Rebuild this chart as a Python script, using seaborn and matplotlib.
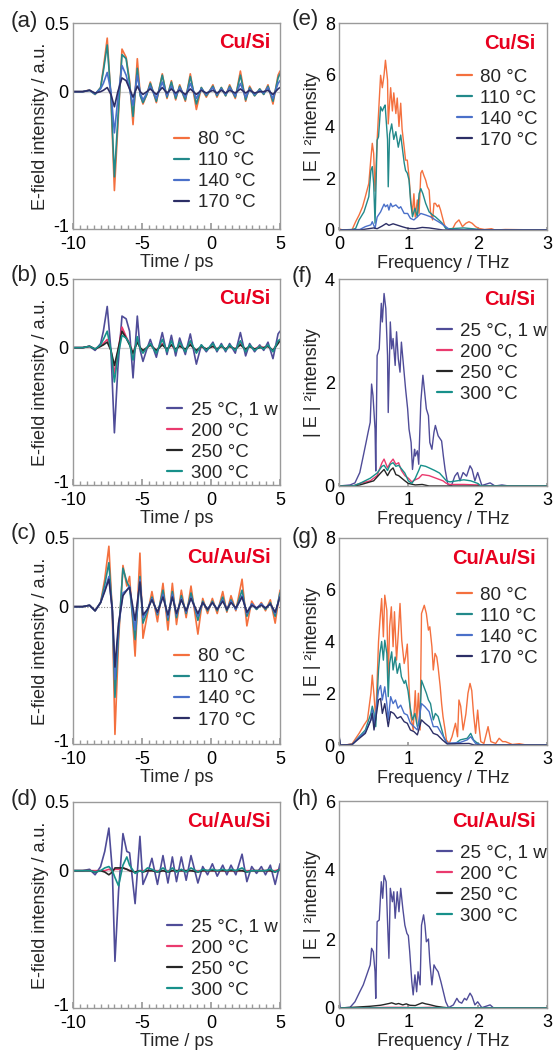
import numpy as np
import pandas as pd
import matplotlib
matplotlib.use("Agg")
import matplotlib.pyplot as plt
import matplotlib.transforms as mtransforms
from matplotlib.ticker import MultipleLocator
import seaborn as sns

sns.set_theme(style="ticks")
plt.rcParams["font.family"] = ["Liberation Sans", "DejaVu Sans"]

# ---------------- time-domain waveforms ----------------
t_cusi = [-10.0, -9.3, -8.8, -8.4, -8.0, -7.8, -7.52, -7.25, -7.0, -6.75, -6.45, -6.15, -5.9, -5.65,
          -5.34, -5.13, -4.93, -4.65, -4.40, -3.96, -3.53, -3.19, -2.87, -2.56, -2.27, -1.86, -1.50,
          -1.06, -0.70, -0.34, 0.14, 0.43, 0.75, 1.06, 1.35, 1.76, 2.13, 2.51, 2.80, 3.16, 3.53, 3.82,
          4.13, 4.49, 4.86, 5.0]

a_80 = [0, 0, 0.012, -0.02, 0.03, 0.17, 0.39, -0.05, -0.72, -0.25, 0.31, 0.25, 0.08, -0.24, 0.24, -0.02,
        -0.09, -0.02, 0.07, -0.08, 0.13, -0.05, 0.08, -0.06, 0.05, -0.07, 0.13, -0.13, 0.03, -0.04, 0.05,
        -0.04, 0.03, -0.03, 0.05, -0.05, 0.15, -0.07, 0.04, -0.03, 0.02, -0.02, 0.05, -0.09, 0.12, 0.15]
a_110 = [0, 0, 0.01, -0.02, 0.03, 0.15, 0.34, -0.03, -0.62, -0.2, 0.27, 0.24, 0.06, -0.18, 0.17, -0.03,
         -0.08, -0.02, 0.06, -0.07, 0.12, -0.04, 0.07, -0.05, 0.04, -0.06, 0.11, -0.09, 0.03, -0.03, 0.04,
         -0.03, 0.03, -0.03, 0.04, -0.04, 0.12, -0.06, 0.03, -0.03, 0.02, -0.02, 0.04, -0.07, 0.10, 0.13]
a_140 = [0, 0, 0.01, -0.015, 0.02, 0.06, 0.14, 0.0, -0.30, -0.05, 0.19, 0.12, 0.02, -0.10, 0.12, -0.01,
         -0.06, -0.01, 0.04, -0.05, 0.07, -0.03, 0.04, -0.03, 0.03, -0.04, 0.06, -0.05, 0.02, -0.02, 0.03,
         -0.02, 0.02, -0.02, 0.03, -0.03, 0.06, -0.04, 0.02, -0.02, 0.01, -0.01, 0.03, -0.05, 0.06, 0.08]
a_170 = [0, 0, 0.01, -0.01, 0.0, 0.01, 0.03, -0.02, -0.11, 0.0, 0.10, 0.08, 0.02, -0.04, 0.04, 0.0,
         -0.02, 0.0, 0.02, -0.02, 0.03, -0.01, 0.02, -0.01, 0.01, -0.02, 0.02, -0.02, 0.01, -0.01, 0.01,
         -0.01, 0.01, -0.01, 0.01, -0.01, 0.02, -0.01, 0.01, -0.01, 0.0, 0.0, 0.01, -0.02, 0.02, 0.03]

b_25 = [0, 0, 0.01, -0.02, 0.03, 0.12, 0.30, -0.02, -0.62, -0.15, 0.23, 0.21, 0.12, -0.22, 0.23, -0.02,
        -0.10, -0.01, 0.06, -0.07, 0.11, -0.05, 0.09, -0.06, 0.07, -0.05, 0.10, -0.12, 0.02, -0.03, 0.04,
        -0.03, 0.03, -0.03, 0.03, -0.04, 0.11, -0.06, 0.03, -0.03, 0.02, -0.02, 0.04, -0.08, 0.10, 0.12]
b_200 = [0, 0, 0.01, -0.01, 0.01, 0.03, 0.06, -0.02, -0.19, -0.03, 0.15, 0.08, 0.03, -0.05, 0.06, -0.01,
         -0.03, 0, 0.02, -0.02, 0.03, -0.02, 0.02, -0.02, 0.02, -0.02, 0.03, -0.03, 0.01, -0.01, 0.01,
         -0.01, 0.01, -0.01, 0.01, -0.01, 0.03, -0.02, 0.01, -0.01, 0.01, 0, 0.01, -0.02, 0.04, 0.06]
b_250 = [0, 0, 0.01, -0.01, 0.01, 0.02, 0.04, -0.02, -0.13, -0.02, 0.12, 0.07, 0.02, -0.04, 0.04, 0.0,
         -0.02, 0, 0.02, -0.02, 0.02, -0.01, 0.02, -0.01, 0.01, -0.01, 0.02, -0.02, 0.01, -0.01, 0.01,
         -0.01, 0.01, -0.01, 0.01, -0.01, 0.02, -0.01, 0.01, -0.01, 0, 0, 0.01, -0.02, 0.03, 0.05]
b_300 = [0, 0, 0.01, -0.01, 0.02, 0.06, 0.12, -0.02, -0.25, -0.06, 0.09, 0.07, 0.03, -0.09, 0.08, -0.01,
         -0.04, 0, 0.03, -0.04, 0.06, -0.03, 0.05, -0.03, 0.04, -0.03, 0.05, -0.04, 0.02, -0.02, 0.03,
         -0.02, 0.02, -0.02, 0.02, -0.02, 0.05, -0.03, 0.02, -0.02, 0.01, -0.01, 0.02, -0.03, 0.05, 0.06]

t_cuausi = [-10.0, -9.3, -8.8, -8.4, -8.0, -7.7, -7.4, -7.15, -6.96, -6.7, -6.38, -6.1, -5.9, -5.5, -5.15,
            -4.93, -4.6, -4.28, -3.88, -3.48, -3.12, -2.80, -2.50, -2.15, -1.80, -1.45, -0.95, -0.60,
            -0.25, 0.10, 0.45, 0.85, 1.15, 1.45, 1.80, 2.25, 2.60, 2.95, 3.30, 3.65, 3.95, 4.30, 4.65, 5.0]

c_80 = [0, 0, 0.01, -0.03, 0.03, 0.20, 0.44, -0.05, -0.93, -0.25, 0.30, 0.15, 0.22, -0.36, 0.39, -0.23,
        -0.05, 0.11, -0.11, 0.17, -0.17, 0.17, -0.13, 0.12, -0.08, 0.15, -0.20, 0.06, -0.05, 0.06, -0.05,
        0.11, -0.04, 0.08, -0.03, 0.20, -0.14, 0.04, -0.02, 0.03, -0.03, 0.05, -0.12, 0.12]
c_110 = [0, 0, 0.01, -0.03, 0.03, 0.16, 0.32, -0.03, -0.66, -0.20, 0.28, 0.18, 0.14, -0.24, 0.22, -0.12,
         -0.03, 0.07, -0.06, 0.12, -0.10, 0.11, -0.08, 0.08, -0.05, 0.10, -0.10, 0.04, -0.03, 0.04, -0.03,
         0.07, -0.03, 0.05, -0.02, 0.12, -0.07, 0.02, -0.02, 0.02, -0.02, 0.03, -0.07, 0.10]
c_140 = [0, 0, 0.01, -0.03, 0.03, 0.12, 0.22, -0.03, -0.53, -0.15, 0.10, 0.12, 0.15, -0.17, 0.20, -0.08,
         -0.02, 0.06, -0.05, 0.09, -0.08, 0.09, -0.06, 0.06, -0.04, 0.07, -0.07, 0.03, -0.02, 0.03, -0.02,
         0.05, -0.02, 0.04, -0.02, 0.08, -0.05, 0.02, -0.01, 0.02, -0.01, 0.02, -0.05, 0.08]
c_170 = [0, 0, 0.01, -0.03, 0.03, 0.11, 0.20, -0.02, -0.44, -0.12, 0.08, 0.12, 0.14, -0.10, 0.18, -0.06,
         -0.02, 0.05, -0.04, 0.07, -0.06, 0.07, -0.05, 0.05, -0.03, 0.06, -0.05, 0.03, -0.02, 0.03, -0.02,
         0.04, -0.02, 0.03, -0.01, 0.07, -0.04, 0.01, -0.01, 0.01, -0.01, 0.02, -0.04, 0.07]

d_25 = [0, 0, 0.01, -0.03, 0.03, 0.14, 0.31, 0.0, -0.66, -0.15, 0.27, 0.14, 0.13, -0.24, 0.25, -0.10,
        -0.02, 0.09, -0.10, 0.11, -0.09, 0.10, -0.08, 0.10, -0.07, 0.11, -0.09, 0.03, -0.03, 0.05, -0.04,
        0.04, -0.03, 0.04, -0.03, 0.12, -0.08, 0.03, -0.02, 0.03, -0.03, 0.04, -0.10, 0.05]
d_200 = [0, 0, 0, 0, 0, 0, 0.01, 0, 0.01, 0.01, 0.02, 0.01, 0.0, -0.01, 0.0, 0, 0, 0, 0, 0, 0, 0, 0, 0,
         0, 0, 0, 0, 0, 0, 0, 0, 0, 0, 0, 0, 0, 0, 0, 0, 0, 0, 0, 0.01]
d_250 = [0, 0, 0, -0.01, 0, -0.01, -0.03, -0.01, 0.02, 0.02, 0.02, 0.01, 0.0, -0.01, 0.0, -0.01, 0, 0,
         -0.01, 0, -0.01, 0, 0, 0, 0, 0, -0.01, 0, 0, 0, 0, 0, 0, 0, 0, 0, -0.01, 0, 0, 0, 0, 0, -0.01, 0.01]
d_300 = [0, 0, 0, -0.01, 0, 0.02, 0.03, 0.0, -0.05, -0.11, 0.04, 0.10, 0.04, -0.02, 0.0, -0.01, 0.02,
         0.01, -0.01, 0.02, -0.01, 0.02, -0.01, 0.01, -0.01, 0.02, -0.01, 0.01, 0, 0.01, 0, 0.01, 0, 0.01,
         0, 0.02, -0.01, 0, 0, 0, 0, 0.01, -0.01, 0.01]

# ---------------- spectra ----------------
e80_f = [0, 0.05, 0.15, 0.19, 0.24, 0.29, 0.34, 0.38, 0.43, 0.46, 0.48, 0.50, 0.52, 0.55, 0.58, 0.60,
         0.625, 0.65, 0.67, 0.70, 0.71, 0.745, 0.77, 0.79, 0.82, 0.84, 0.865, 0.89, 0.91, 0.94, 0.96,
         0.985, 1.01, 1.035, 1.06, 1.08, 1.10, 1.13, 1.155, 1.18, 1.20, 1.225, 1.25, 1.275, 1.30, 1.32,
         1.35, 1.37, 1.39, 1.42, 1.44, 1.465, 1.49, 1.515, 1.54, 1.63, 1.68, 1.73, 1.78, 1.83, 1.875,
         1.92, 1.97, 2.02, 2.1, 2.2, 2.25, 2.4, 3.0]
e80_v = [0.05, 0, 0, 0.02, 0.32, 0.58, 0.9, 1.29, 1.8, 2.77, 3.35, 2.96, 1.5, 3.47, 5.0, 5.98, 5.5, 6.0,
         6.56, 5.8, 4.1, 5.5, 4.6, 5.3, 4.5, 5.1, 4.0, 4.9, 3.9, 3.2, 2.7, 2.7, 2.06, 1.16, 0.64, 1.4, 0.5,
         1.16, 0.64, 2.2, 2.3, 2.1, 1.93, 1.67, 1.54, 0.7, 0.39, 1.03, 1.03, 0.9, 0.97, 0.77, 0.51, 0.26,
         0.06, 0.0, 0.26, 0.39, 0.13, 0.26, 0.32, 0.26, 0.13, 0.06, 0.02, 0.05, 0.0, 0.02, 0.0]
e110_f = [0, 0.19, 0.24, 0.29, 0.36, 0.43, 0.46, 0.48, 0.50, 0.52, 0.55, 0.57, 0.60, 0.625, 0.65, 0.665,
          0.70, 0.71, 0.73, 0.76, 0.79, 0.82, 0.855, 0.89, 0.94, 0.96, 0.985, 1.01, 1.035, 1.06, 1.095,
          1.13, 1.155, 1.18, 1.21, 1.25, 1.30, 1.35, 1.39, 1.44, 1.49, 1.54, 1.6, 1.8, 2.0, 2.05, 3.0]
e110_v = [0, 0.02, 0.06, 0.39, 0.7, 1.29, 2.3, 2.45, 1.8, 0.26, 3.47, 3.6, 4.76, 4.6, 4.76, 4.83, 3.5,
          1.67, 3.7, 4.1, 3.5, 3.8, 3.2, 3.67, 2.6, 2.3, 2.2, 1.93, 1.03, 0.51, 0.84, 0.51, 1.4, 1.6, 1.4,
          1.03, 0.7, 0.58, 0.51, 0.39, 0.26, 0.06, 0.05, 0.08, 0.03, 0.0, 0.0]
e140_f = [0, 0.3, 0.38, 0.46, 0.48, 0.52, 0.55, 0.60, 0.65, 0.67, 0.70, 0.72, 0.745, 0.77, 0.82, 0.865,
          0.89, 0.94, 0.99, 1.03, 1.08, 1.13, 1.18, 1.25, 1.32, 1.39, 1.47, 1.54, 1.6, 3.0]
e140_v = [0, 0.02, 0.13, 0.2, 0.32, 0.06, 0.5, 0.7, 1.0, 0.9, 0.97, 0.77, 1.03, 0.9, 0.97, 0.84, 0.9,
          0.64, 0.64, 0.45, 0.39, 0.51, 0.64, 0.58, 0.51, 0.39, 0.26, 0.13, 0.0, 0.0]
e170_f = [0, 0.3, 0.4, 0.5, 0.55, 0.62, 0.68, 0.72, 0.78, 0.85, 0.92, 1.0, 1.1, 1.2, 1.3, 1.4, 1.5, 3.0]
e170_v = [0, 0.0, 0.04, 0.08, 0.05, 0.15, 0.25, 0.18, 0.24, 0.18, 0.12, 0.06, 0.05, 0.1, 0.08, 0.04, 0.0, 0.0]

f25_f = [0, 0.16, 0.23, 0.30, 0.35, 0.39, 0.42, 0.45, 0.47, 0.49, 0.52, 0.53, 0.55, 0.58, 0.61, 0.625,
         0.65, 0.675, 0.70, 0.71, 0.74, 0.76, 0.78, 0.81, 0.83, 0.855, 0.88, 0.90, 0.93, 0.96, 0.99, 1.01,
         1.04, 1.06, 1.09, 1.10, 1.13, 1.15, 1.18, 1.21, 1.23, 1.26, 1.29, 1.31, 1.34, 1.37, 1.39, 1.43,
         1.48, 1.505, 1.53, 1.57, 1.62, 1.67, 1.71, 1.745, 1.79, 1.84, 1.89, 1.92, 1.96, 2.0, 2.06, 2.18,
         2.25, 2.35, 2.45, 3.0]
f25_v = [0.0, 0.02, 0.06, 0.26, 0.58, 0.84, 1.04, 1.23, 1.97, 1.75, 1.1, 0.29, 2.52, 2.65, 3.53, 3.17,
         3.72, 3.43, 2.52, 1.42, 3.17, 2.65, 2.85, 2.33, 2.98, 2.46, 2.2, 2.78, 2.33, 1.88, 1.49, 1.1,
         0.84, 0.32, 0.71, 0.58, 0.68, 0.42, 1.62, 2.14, 1.88, 1.49, 1.36, 0.84, 0.71, 1.04, 1.17, 0.97,
         0.87, 0.58, 0.32, 0.03, 0.0, 0.19, 0.26, 0.1, 0.26, 0.19, 0.39, 0.32, 0.1, 0.26, 0.01, 0.06, 0.0,
         0.02, 0.0, 0.0]
f200_f = [0, 0.2, 0.3, 0.45, 0.55, 0.62, 0.65, 0.70, 0.74, 0.78, 0.82, 0.86, 0.9, 0.95, 1.0, 1.05, 1.1,
          1.15, 1.2, 1.3, 1.4, 1.5, 1.55, 1.6, 1.8, 2.0, 2.05, 3.0]
f200_v = [0, 0.0, 0.05, 0.1, 0.2, 0.45, 0.52, 0.35, 0.45, 0.52, 0.42, 0.45, 0.3, 0.2, 0.15, 0.08, 0.12,
          0.15, 0.22, 0.2, 0.15, 0.1, 0.05, 0.03, 0.03, 0.02, 0.0, 0.0]
f250_f = [0, 0.2, 0.3, 0.5, 0.6, 0.65, 0.7, 0.74, 0.78, 0.82, 0.86, 0.95, 1.0, 1.1, 1.2, 1.3, 3.0]
f250_v = [0, 0.0, 0.02, 0.1, 0.25, 0.32, 0.2, 0.3, 0.35, 0.22, 0.2, 0.1, 0.05, 0.02, 0.03, 0.0, 0.0]
f300_f = [0, 0.2, 0.3, 0.45, 0.55, 0.62, 0.65, 0.70, 0.74, 0.78, 0.82, 0.86, 0.95, 1.0, 1.05, 1.1, 1.15,
          1.18, 1.25, 1.3, 1.38, 1.45, 1.55, 1.6, 1.7, 1.8, 1.9, 2.0, 2.05, 3.0]
f300_v = [0, 0.0, 0.05, 0.15, 0.25, 0.38, 0.4, 0.3, 0.42, 0.45, 0.38, 0.4, 0.25, 0.1, 0.05, 0.15, 0.3,
          0.4, 0.38, 0.35, 0.3, 0.25, 0.1, 0.08, 0.1, 0.12, 0.1, 0.05, 0.0, 0.0]

g80_f = [0, 0.02, 0.1, 0.19, 0.29, 0.36, 0.41, 0.46, 0.48, 0.505, 0.53, 0.57, 0.59, 0.615, 0.64, 0.66,
         0.69, 0.71, 0.73, 0.755, 0.78, 0.80, 0.83, 0.855, 0.88, 0.905, 0.94, 0.96, 0.985, 1.01, 1.03,
         1.07, 1.10, 1.12, 1.145, 1.17, 1.19, 1.23, 1.26, 1.29, 1.31, 1.34, 1.36, 1.385, 1.41, 1.43, 1.46,
         1.48, 1.5, 1.53, 1.55, 1.59, 1.63, 1.68, 1.71, 1.73, 1.755, 1.79, 1.83, 1.86, 1.89, 1.915, 1.94,
         1.97, 2.0, 2.02, 2.045, 2.09, 2.15, 2.19, 2.26, 2.31, 2.36, 2.4, 2.5, 2.6, 2.7, 3.0]
g80_v = [0.3, 0.0, 0.0, 0.05, 0.45, 0.77, 0.97, 2.0, 2.7, 1.93, 0.97, 4.0, 4.8, 5.66, 4.18, 5.79, 5.2,
         2.5, 4.57, 5.34, 3.8, 5.15, 3.28, 4.3, 5.47, 4.05, 3.15, 3.4, 3.9, 2.25, 1.22, 0.58, 2.1, 0.84,
         2.0, 0.58, 5.08, 5.4, 5.08, 4.44, 4.57, 3.8, 2.9, 3.54, 3.4, 3.0, 2.25, 1.6, 1.1, 0.58, 0.19, 0.06,
         0.32, 0.84, 0.32, 1.74, 1.5, 0.58, 1.2, 2.0, 2.38, 2.1, 1.22, 0.45, 1.35, 0.71, 0.13, 0.06, 0.71,
         0.13, 0.06, 0.26, 0.13, 0.13, 0.02, 0.05, 0.0, 0.0]
g110_f = [0, 0.02, 0.19, 0.29, 0.38, 0.46, 0.48, 0.505, 0.53, 0.57, 0.59, 0.615, 0.64, 0.66, 0.69, 0.71,
          0.73, 0.76, 0.78, 0.81, 0.84, 0.875, 0.90, 0.94, 0.96, 0.995, 1.025, 1.06, 1.095, 1.13, 1.165,
          1.19, 1.225, 1.26, 1.29, 1.32, 1.36, 1.39, 1.43, 1.47, 1.51, 1.56, 1.68, 1.75, 1.85, 1.9, 1.94,
          2.0, 2.05, 3.0]
g110_v = [0.3, 0.0, 0.02, 0.32, 0.58, 1.22, 1.5, 1.22, 0.71, 2.9, 3.54, 4.0, 3.28, 4.05, 3.54, 1.87,
          3.15, 3.6, 2.9, 3.4, 2.77, 3.15, 2.64, 2.38, 2.5, 2.1, 1.48, 0.97, 1.22, 0.71, 0.84, 2.5, 2.25,
          2.0, 1.74, 1.6, 0.97, 1.22, 1.1, 0.71, 0.32, 0.06, 0.06, 0.2, 0.26, 0.45, 0.2, 0.06, 0.0, 0.0]
g140_f = [0, 0.02, 0.19, 0.29, 0.38, 0.46, 0.48, 0.505, 0.57, 0.60, 0.625, 0.66, 0.69, 0.71, 0.745, 0.78,
          0.815, 0.85, 0.89, 0.94, 0.985, 1.03, 1.08, 1.13, 1.19, 1.24, 1.30, 1.36, 1.42, 1.49, 1.56, 1.75,
          1.85, 1.9, 1.97, 2.05, 3.0]
g140_v = [0.3, 0.0, 0.02, 0.3, 0.5, 0.97, 1.35, 0.71, 2.1, 2.3, 1.74, 2.25, 1.6, 0.97, 1.87, 1.6, 1.74,
          1.42, 1.54, 1.22, 1.16, 0.84, 0.71, 0.58, 1.6, 1.48, 1.29, 0.71, 0.71, 0.39, 0.06, 0.1, 0.2, 0.32,
          0.06, 0.0, 0.0]
g170_f = [0, 0.02, 0.19, 0.29, 0.38, 0.46, 0.48, 0.505, 0.57, 0.60, 0.625, 0.66, 0.71, 0.745, 0.79, 0.84,
          0.89, 0.94, 0.985, 1.03, 1.08, 1.13, 1.19, 1.24, 1.30, 1.36, 1.42, 1.49, 1.56, 1.875, 1.95, 3.0]
g170_v = [0.4, 0.0, 0.02, 0.25, 0.45, 0.97, 1.22, 0.58, 1.74, 1.8, 1.22, 1.6, 0.71, 1.29, 1.22, 1.03, 1.1,
          0.9, 0.84, 0.58, 0.52, 0.39, 0.97, 0.84, 0.71, 0.45, 0.39, 0.2, 0.04, 0.06, 0.0, 0.0]

h25_f = [0, 0.02, 0.16, 0.23, 0.30, 0.35, 0.40, 0.45, 0.47, 0.495, 0.52, 0.53, 0.55, 0.58, 0.61, 0.63,
         0.65, 0.68, 0.70, 0.72, 0.74, 0.77, 0.79, 0.81, 0.84, 0.865, 0.89, 0.92, 0.95, 0.98, 1.0, 1.02,
         1.05, 1.07, 1.095, 1.12, 1.14, 1.17, 1.19, 1.22, 1.24, 1.26, 1.29, 1.31, 1.34, 1.37, 1.395, 1.43,
         1.47, 1.505, 1.54, 1.58, 1.65, 1.70, 1.73, 1.77, 1.81, 1.84, 1.89, 1.92, 1.96, 2.0, 2.06, 2.18,
         2.23, 3.0]
h25_v = [0.28, 0.0, 0.02, 0.18, 0.47, 0.67, 0.96, 1.25, 1.73, 1.63, 1.05, 0.28, 2.5, 2.55, 3.66, 3.18,
         3.84, 3.66, 2.5, 1.44, 3.47, 3.08, 3.37, 2.6, 3.37, 2.79, 3.47, 2.89, 2.4, 2.16, 2.1, 1.63, 0.76,
         0.38, 0.96, 0.47, 1.05, 0.67, 2.4, 2.7, 2.4, 1.92, 2.0, 1.34, 0.67, 1.25, 1.15, 1.05, 0.76, 0.47,
         0.18, 0.01, 0.09, 0.28, 0.18, 0.14, 0.28, 0.23, 0.43, 0.33, 0.09, 0.18, 0.01, 0.09, 0.0, 0.0]
h200_f = [0, 0.2, 0.5, 0.7, 0.9, 1.1, 1.3, 1.5, 3.0]
h200_v = [0, 0.0, 0.01, 0.02, 0.02, 0.01, 0.02, 0.01, 0.0]
h250_f = [0, 0.2, 0.45, 0.6, 0.65, 0.72, 0.76, 0.82, 0.86, 0.92, 0.97, 1.02, 1.1, 1.2, 1.25, 1.3, 1.4,
          1.5, 1.6, 3.0]
h250_v = [0, 0.02, 0.05, 0.08, 0.1, 0.13, 0.15, 0.11, 0.13, 0.09, 0.12, 0.08, 0.07, 0.15, 0.12, 0.1, 0.05,
          0.02, 0.0, 0.0]
h300_f = [0, 0.5, 1.0, 1.5, 3.0]
h300_v = [0, 0.005, 0.01, 0.005, 0.0]

# ---------------- labels & styling ----------------
labels_a = ["80 °C", "110 °C", "140 °C", "170 °C"]
labels_b = ["25 °C, 1 w", "200 °C", "250 °C", "300 °C"]
colors_a = ["#f4703e", "#22898a", "#4a70c9", "#2c2e66"]
colors_b = ["#4f4c98", "#ea3a6e", "#262626", "#17908a"]
RED = "#e8001f"
SPINE = "#9a9a9a"

W, H = 554, 1055
fig = plt.figure(figsize=(W / 100, H / 100), dpi=100)


def add_axes(left_px, top_px, width_px, height_px):
    return fig.add_axes([left_px / W, 1 - (top_px + height_px) / H, width_px / W, height_px / H])


def style_axes(ax):
    for s in ax.spines.values():
        s.set_color(SPINE)
        s.set_linewidth(1.0)
    ax.tick_params(axis="both", labelsize=13, colors="black")
    ax.tick_params(axis="y", length=0, pad=3)
    ax.tick_params(axis="x", which="both", direction="in", color=SPINE, pad=5)


def draw(ax, xs, ys, labels, colors, lw):
    for x, y, lab, col in zip(xs, ys, labels, colors):
        df = pd.DataFrame({"x": x, "y": y})
        sns.lineplot(data=df, x="x", y="y", ax=ax, color=col, lw=lw, label=lab,
                     estimator=None, sort=False, solid_joinstyle="round")


def finish_legend(ax, anchor):
    leg = ax.legend(loc="upper left", bbox_to_anchor=anchor, frameon=False, fontsize=13.5,
                    handlelength=0.8, handletextpad=0.45, labelspacing=0.21, borderpad=0,
                    borderaxespad=0)
    for ln in leg.get_lines():
        ln.set_linewidth(1.6)


def lift_bottom_ylabel(ax, points):
    # nudge the lowest y tick label upward so it clears the first x tick label
    lab = ax.yaxis.get_major_ticks()[0].label1
    lab.set_transform(lab.get_transform() +
                      mtransforms.ScaledTranslation(0, points / 72, fig.dpi_scale_trans))


def time_panel(top, series, labels, colors, tag, material, tag_y, leg_anchor, dotted=False):
    ax = add_axes(73, top, 207, 206)
    style_axes(ax)
    if dotted:
        ax.axhline(0, color="#8a8a8a", lw=0.8, ls=(0, (1, 1.5)), zorder=0)
    else:
        ax.axhline(0, color="#cfcfcf", lw=0.9, zorder=0)
    t = series[0]
    draw(ax, [t] * 4, series[1:], labels, colors, 1.2)
    ax.set_xlim(-10, 5)
    ax.set_ylim(-1, 0.5)
    ax.set_xticks([-10, -5, 0, 5])
    ax.xaxis.set_minor_locator(MultipleLocator(0.5))
    ax.tick_params(axis="x", which="major", length=4)
    ax.tick_params(axis="x", which="minor", length=3)
    ax.set_yticks([-1, 0, 0.5])
    ax.set_yticklabels(["-1", "0", "0.5"])
    ax.set_xticklabels(["-10", "-5", "0", "5"])
    ax.set_xlabel("Time / ps", fontsize=13)
    ax.set_ylabel("E-field intensity / a.u.", fontsize=13)
    ax.xaxis.set_label_coords(0.5, -0.12)
    ax.yaxis.set_label_coords(-0.115, 0.5)
    ax.text(0.955, 0.905, material, transform=ax.transAxes, ha="right", va="center",
            color=RED, fontsize=14.5, fontweight="bold")
    fig.text(11 / W, 1 - tag_y / H, tag, fontsize=16, ha="left", va="center")
    finish_legend(ax, leg_anchor)
    lift_bottom_ylabel(ax, 2.5)
    return ax


def freq_panel(top, xs, ys, labels, colors, ymax, tag, material, tag_y, leg_anchor):
    ax = add_axes(339, top, 208, 207)
    style_axes(ax)
    draw(ax, xs, ys, labels, colors, 1.0)
    ax.set_xlim(0, 3)
    ax.set_ylim(0, ymax)
    ax.set_xticks([0, 1, 2, 3])
    ax.tick_params(axis="x", which="major", length=2.5, pad=4)
    ax.set_yticks(list(range(0, ymax + 1, 2)))
    ax.set_xlabel("Frequency / THz", fontsize=13)
    ax.set_ylabel("| E | ²intensity", fontsize=13)
    ax.xaxis.set_label_coords(0.5, -0.12)
    ax.yaxis.set_label_coords(-0.085, 0.5)
    ax.text(0.945, 0.90, material, transform=ax.transAxes, ha="right", va="center",
            color=RED, fontsize=14.5, fontweight="bold")
    fig.text(292 / W, 1 - tag_y / H, tag, fontsize=16, ha="left", va="center")
    finish_legend(ax, leg_anchor)
    return ax


time_panel(23, [t_cusi, a_80, a_110, a_140, a_170], labels_a, colors_a, "(a)", "Cu/Si", 22,
           (0.49, 0.475))
time_panel(279, [t_cusi, b_25, b_200, b_250, b_300], labels_b, colors_b, "(b)", "Cu/Si", 276,
           (0.455, 0.405))
time_panel(538, [t_cuausi, c_80, c_110, c_140, c_170], labels_a, colors_a, "(c)", "Cu/Au/Si", 534,
           (0.49, 0.465), dotted=True)
time_panel(802, [t_cuausi, d_25, d_200, d_250, d_300], labels_b, colors_b, "(d)", "Cu/Au/Si", 800,
           (0.455, 0.435))

freq_panel(23, [e80_f, e110_f, e140_f, e170_f], [e80_v, e110_v, e140_v, e170_v], labels_a, colors_a,
           8, "(e)", "Cu/Si", 20, (0.565, 0.78))
freq_panel(279, [f25_f, f200_f, f250_f, f300_f], [f25_v, f200_v, f250_v, f300_v], labels_b, colors_b,
           4, "(f)", "Cu/Si", 277, (0.47, 0.79))
freq_panel(538, [g80_f, g110_f, g140_f, g170_f], [g80_v, g110_v, g140_v, g170_v], labels_a, colors_a,
           8, "(g)", "Cu/Au/Si", 537, (0.565, 0.765))
freq_panel(801, [h25_f, h200_f, h250_f, h300_f], [h25_v, h200_v, h250_v, h300_v], labels_b, colors_b,
           6, "(h)", "Cu/Au/Si", 800, (0.47, 0.79))

fig.savefig("out.png", dpi=100)
